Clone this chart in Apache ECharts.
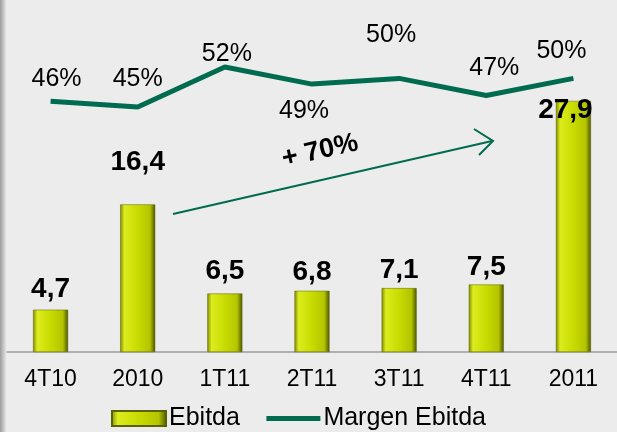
<!DOCTYPE html>
<html>
<head>
<meta charset="utf-8">
<script src="https://cdn.jsdelivr.net/npm/echarts@6/dist/echarts.min.js"></script>
<style>
  html, body { margin: 0; padding: 0; background: #ececec; }
  #main { width: 617px; height: 432px; }
</style>
</head>
<body>
<div id="main"></div>
<script>
// Ebitda y margen
const categories = ['4T10', '2010', '1T11', '2T11', '3T11', '4T11', '2011'];
const ebitda = [4.7, 16.4, 6.5, 6.8, 7.1, 7.5, 27.9];
const margen = [46, 45, 52, 49, 50, 47, 50];

// ajuste de etiquetas como en la lamina: [dx, distancia]
const barLabelPos = [[0, 6], [0, 28], [0, 8], [0, 5], [0, 4], [0, 3], [-8, -23]];
// etiquetas de margen: [dx, dy] respecto del punto
const lineLabelPos = [[6, -22], [0, -28], [2, -13], [-8, 27], [-8, -43], [8, -27], [-12, -27]];

const fmt = v => String(v).replace('.', ',');

var myChart = echarts.init(document.getElementById('main'));

const barColor = {
  type: 'linear', x: 0, y: 0, x2: 1, y2: 0,
  colorStops: [
    { offset: 0, color: '#7f8a00' },
    { offset: 0.12, color: '#dcec1e' },
    { offset: 0.5, color: '#c8db00' },
    { offset: 0.85, color: '#b4c500' },
    { offset: 1, color: '#4c5400' },
  ],
};

const option = {
  backgroundColor: '#ececec',
  animation: false,
  grid: {
    left: 7,
    right: -4,
    top: 10,
    bottom: 80,
  },
  legend: {
    top: 401,
    left: 106,
    itemWidth: 54,
    itemHeight: 15,
    itemGap: 24,
    textStyle: { fontFamily: 'Liberation Sans', fontSize: 25, color: '#000', padding: [0, 0, 0, -2] },
    data: [
      { name: 'Ebitda', icon: 'rect' },
      { name: 'Margen Ebitda', itemStyle: { opacity: 0 }, lineStyle: { width: 5, color: '#006b4f' } },
    ],
  },
  xAxis: {
    type: 'category',
    data: categories,
    axisLine: { lineStyle: { color: '#9a9a9a', width: 1.5 } },
    axisTick: { length: 6, lineStyle: { color: '#9a9a9a' } },
    axisLabel: {
      fontFamily: 'Liberation Sans',
      fontSize: 23,
      color: '#000',
      margin: 16,
    },
  },
  yAxis: [
    { type: 'value', min: 0, max: 38, show: false },
    { type: 'value', min: 2, max: 62, show: false },
  ],
  series: [
    {
      name: 'Ebitda',
      type: 'bar',
      barWidth: 35,
      itemStyle: {
        color: barColor,
        borderColor: '#5a6200',
        borderWidth: 0.5,
      },
      data: ebitda.map((v, i) => ({
        value: v,
        label: {
          offset: [barLabelPos[i][0], 0],
          distance: barLabelPos[i][1],
        },
      })),
      label: {
        show: true,
        position: 'top',
        formatter: p => fmt(p.value),
        fontFamily: 'Liberation Sans',
        fontWeight: 'bold',
        fontSize: 28,
        color: '#000',
      },
    },
    {
      name: 'Margen Ebitda',
      type: 'line',
      yAxisIndex: 1,
      symbol: 'circle',
      symbolSize: 0,
      lineStyle: { color: '#006b4f', width: 5 },
      itemStyle: { color: '#006b4f' },
      data: margen.map((v, i) => ({
        value: v,
        label: { offset: lineLabelPos[i] },
      })),
      label: {
        show: true,
        position: 'inside',
        formatter: p => p.value + '%',
        fontFamily: 'Liberation Sans',
        fontSize: 25,
        color: '#000',
      },
    },
  ],
  graphic: [
    {
      type: 'rect',
      left: 0,
      top: 0,
      shape: { width: 6, height: 432 },
      style: {
        fill: {
          type: 'linear', x: 0, y: 0, x2: 1, y2: 0,
          colorStops: [
            { offset: 0, color: '#9c9c9c' },
            { offset: 1, color: '#e4e4e4' },
          ],
        },
      },
      z: 10,
    },
    {
      type: 'line',
      shape: { x1: 173, y1: 214, x2: 492, y2: 141 },
      style: { stroke: '#006b4f', lineWidth: 2 },
      z: 10,
    },
    {
      type: 'polyline',
      shape: { points: [[474, 129], [493, 141], [479, 155]] },
      style: { stroke: '#006b4f', lineWidth: 2, fill: null },
      z: 10,
    },
    {
      type: 'text',
      x: 320,
      y: 151,
      rotation: 0.22,
      style: {
        text: '+ 70%',
        fontFamily: 'Liberation Sans',
        fontWeight: 'bold',
        fontSize: 27,
        fill: '#000',
        align: 'center',
        verticalAlign: 'middle',
      },
      z: 10,
    },
  ],
};
myChart.setOption(option);
</script>
</body>
</html>
